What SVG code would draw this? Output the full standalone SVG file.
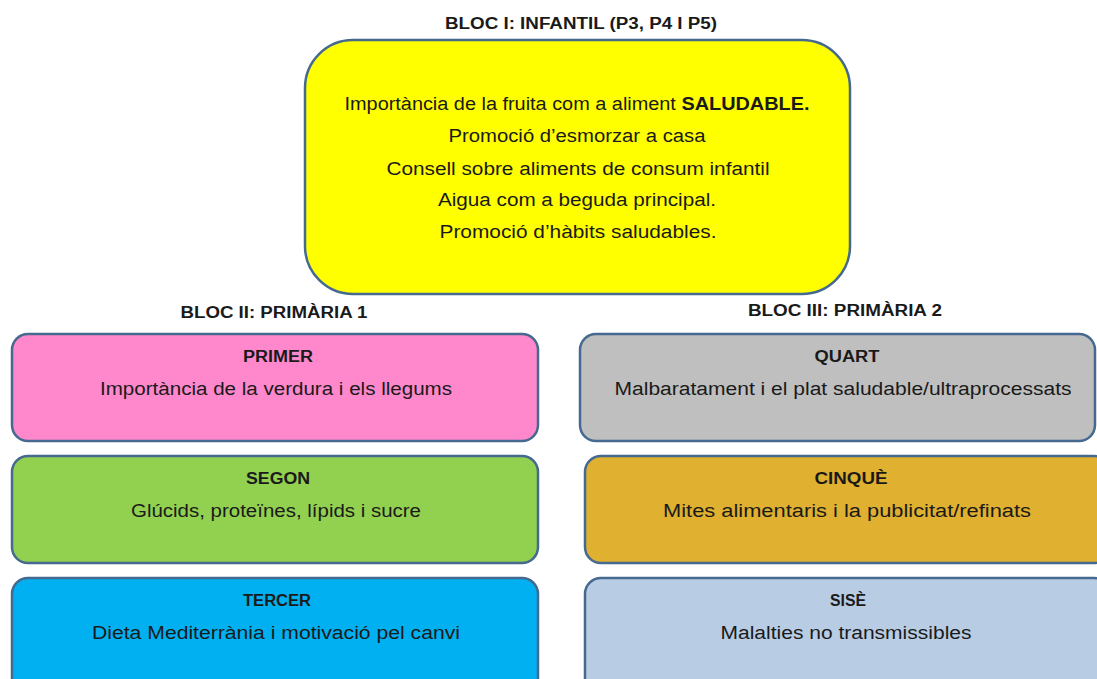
<svg xmlns="http://www.w3.org/2000/svg" width="1097" height="679" viewBox="0 0 1097 679">
<style>
.box{stroke:#45698F;stroke-width:2.5}
.t{font-family:"Liberation Sans",Arial,sans-serif;font-size:18px;fill:#1a1a1a;text-anchor:middle}
.h{font-family:"Liberation Sans",Arial,sans-serif;font-size:16px;font-weight:bold;fill:#1a1a1a;text-anchor:middle}
</style>
<rect width="1097" height="679" fill="#ffffff"/>
<g id="bloc1">
<text class="h" x="581" y="29" textLength="272" lengthAdjust="spacingAndGlyphs">BLOC I: INFANTIL (P3, P4 I P5)</text>
<rect class="box" x="305" y="40" width="545" height="254" rx="48" fill="#FFFF00"/>
<text class="t" x="577" y="110" textLength="465" lengthAdjust="spacingAndGlyphs">Importància de la fruita com a aliment <tspan font-weight="bold">SALUDABLE.</tspan></text>
<text class="t" x="577" y="142" textLength="257" lengthAdjust="spacingAndGlyphs">Promoció d’esmorzar a casa</text>
<text class="t" x="578" y="175" textLength="383" lengthAdjust="spacingAndGlyphs">Consell sobre aliments de consum infantil</text>
<text class="t" x="577" y="206" textLength="278" lengthAdjust="spacingAndGlyphs">Aigua com a beguda principal.</text>
<text class="t" x="578" y="238" textLength="277" lengthAdjust="spacingAndGlyphs">Promoció d’hàbits saludables.</text>
</g>
<g id="bloc2-label"><text class="h" x="274" y="318" textLength="187" lengthAdjust="spacingAndGlyphs">BLOC II:  PRIMÀRIA  1</text></g>
<g id="bloc3-label"><text class="h" x="845" y="316" textLength="194" lengthAdjust="spacingAndGlyphs">BLOC III:  PRIMÀRIA  2</text></g>
<g id="primer">
<rect class="box" x="12" y="334" width="526" height="107" rx="16" fill="#FF88CC"/>
<text class="h" x="278" y="362" textLength="70" lengthAdjust="spacingAndGlyphs">PRIMER</text>
<text class="t" x="276" y="395" textLength="352" lengthAdjust="spacingAndGlyphs">Importància de la verdura i els llegums</text>
</g>
<g id="segon">
<rect class="box" x="12" y="456" width="526" height="107" rx="16" fill="#92D050"/>
<text class="h" x="278" y="484" textLength="64" lengthAdjust="spacingAndGlyphs">SEGON</text>
<text class="t" x="276" y="517" textLength="290" lengthAdjust="spacingAndGlyphs">Glúcids, proteïnes, lípids i sucre</text>
</g>
<g id="tercer">
<rect class="box" x="12" y="578" width="526" height="120" rx="16" fill="#00B0F0"/>
<text class="h" x="277" y="606" textLength="68" lengthAdjust="spacingAndGlyphs">TERCER</text>
<text class="t" x="276" y="639" textLength="368" lengthAdjust="spacingAndGlyphs">Dieta Mediterrània i motivació pel canvi</text>
</g>
<g id="quart">
<rect class="box" x="580" y="334" width="515" height="107" rx="16" fill="#BFBFBF"/>
<text class="h" x="847" y="362" textLength="65" lengthAdjust="spacingAndGlyphs">QUART</text>
<text class="t" x="843" y="395" textLength="457" lengthAdjust="spacingAndGlyphs">Malbaratament i el plat saludable/ultraprocessats</text>
</g>
<g id="cinque">
<rect class="box" x="585" y="456" width="525" height="107" rx="16" fill="#E0B030"/>
<text class="h" x="851" y="484" textLength="73" lengthAdjust="spacingAndGlyphs">CINQUÈ</text>
<text class="t" x="847" y="517" textLength="368" lengthAdjust="spacingAndGlyphs">Mites alimentaris  i la publicitat/refinats</text>
</g>
<g id="sise">
<rect class="box" x="585" y="578" width="525" height="120" rx="16" fill="#B8CCE4"/>
<text class="h" x="848" y="606" textLength="36" lengthAdjust="spacingAndGlyphs">SISÈ</text>
<text class="t" x="846" y="639" textLength="251" lengthAdjust="spacingAndGlyphs">Malalties no transmissibles</text>
</g>
<g id="connectors"></g>
</svg>
